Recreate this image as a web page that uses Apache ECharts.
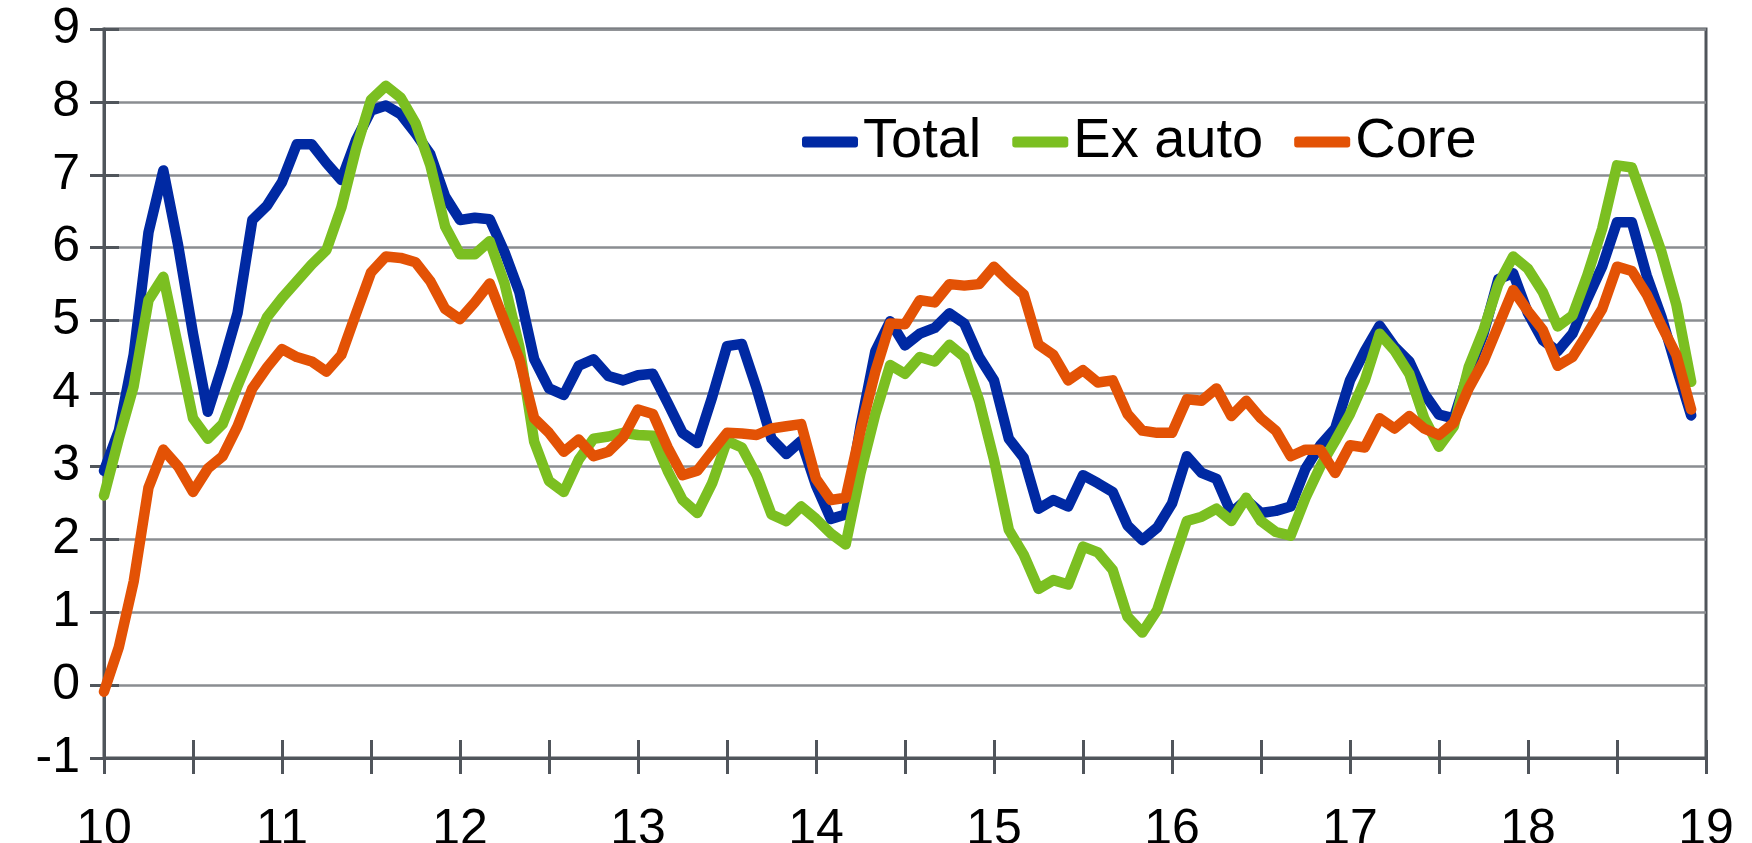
<!DOCTYPE html>
<html>
<head>
<meta charset="utf-8">
<title>Total / Ex auto / Core</title>
<script src="https://cdn.jsdelivr.net/npm/echarts@6/dist/echarts.min.js"></script>
<style>
  html, body { margin: 0; padding: 0; background: #fff; }
  #main { width: 1752px; height: 843px; }
</style>
</head>
<body>
<div id="main"></div>
<script>
// monthly values, Jan 2010 .. Dec 2018
var startYear = 10;
var total = [
  2.94, 3.49, 4.53, 6.21, 7.06, 6.03, 4.82, 3.75, 4.39, 5.10, 6.38, 6.58,
  6.90, 7.42, 7.42, 7.16, 6.93, 7.48, 7.88, 7.95, 7.83, 7.57, 7.28, 6.70,
  6.38, 6.41, 6.39, 5.94, 5.39, 4.47, 4.07, 3.98, 4.38, 4.47, 4.24, 4.18,
  4.25, 4.27, 3.87, 3.46, 3.32, 3.95, 4.65, 4.68, 4.07, 3.38, 3.17, 3.35,
  2.74, 2.28, 2.34, 3.55, 4.58, 4.99, 4.66, 4.82, 4.90, 5.10, 4.96, 4.50,
  4.18, 3.38, 3.12, 2.42, 2.54, 2.45, 2.88, 2.77, 2.65, 2.19, 1.99, 2.16,
  2.49, 3.14, 2.91, 2.83, 2.36, 2.54, 2.36, 2.39, 2.45, 2.97, 3.29, 3.52,
  4.18, 4.58, 4.93, 4.64, 4.44, 4.00, 3.71, 3.66, 4.30, 4.82, 5.57, 5.65,
  5.10, 4.73, 4.58, 4.82, 5.30, 5.74, 6.35, 6.35, 5.62, 5.05, 4.36, 3.70
];
var exAuto = [
  2.60, 3.38, 4.10, 5.28, 5.60, 4.64, 3.66, 3.38, 3.58, 4.10, 4.59, 5.05,
  5.31, 5.54, 5.77, 5.97, 6.55, 7.36, 8.03, 8.22, 8.06, 7.71, 7.13, 6.29,
  5.91, 5.91, 6.09, 5.51, 4.64, 3.34, 2.80, 2.65, 3.09, 3.38, 3.41, 3.46,
  3.43, 3.42, 2.94, 2.54, 2.36, 2.77, 3.35, 3.26, 2.88, 2.34, 2.25, 2.45,
  2.28, 2.08, 1.93, 2.91, 3.72, 4.39, 4.27, 4.50, 4.44, 4.67, 4.50, 3.90,
  3.09, 2.13, 1.79, 1.32, 1.44, 1.38, 1.90, 1.82, 1.58, 0.94, 0.72, 1.03,
  1.65, 2.25, 2.31, 2.42, 2.25, 2.57, 2.25, 2.10, 2.05, 2.57, 3.00, 3.35,
  3.72, 4.18, 4.82, 4.59, 4.27, 3.66, 3.27, 3.55, 4.36, 4.87, 5.50, 5.88,
  5.71, 5.39, 4.92, 5.07, 5.62, 6.26, 7.13, 7.10, 6.52, 5.94, 5.22, 4.16
];
var core = [
  -0.09, 0.52, 1.42, 2.71, 3.23, 3.00, 2.65, 2.97, 3.14, 3.55, 4.07, 4.36,
  4.61, 4.50, 4.44, 4.30, 4.53, 5.10, 5.66, 5.88, 5.86, 5.80, 5.54, 5.16,
  5.02, 5.25, 5.51, 4.99, 4.47, 3.66, 3.46, 3.20, 3.37, 3.14, 3.20, 3.40,
  3.78, 3.72, 3.26, 2.88, 2.94, 3.20, 3.46, 3.45, 3.43, 3.52, 3.55, 3.58,
  2.83, 2.54, 2.57, 3.49, 4.30, 4.96, 4.95, 5.28, 5.25, 5.50, 5.48, 5.50,
  5.74, 5.54, 5.36, 4.67, 4.53, 4.18, 4.32, 4.15, 4.18, 3.72, 3.49, 3.46,
  3.46, 3.92, 3.90, 4.07, 3.69, 3.90, 3.66, 3.49, 3.14, 3.23, 3.23, 2.91,
  3.29, 3.26, 3.66, 3.52, 3.69, 3.52, 3.43, 3.60, 4.07, 4.44, 4.93, 5.42,
  5.13, 4.87, 4.38, 4.50, 4.82, 5.16, 5.74, 5.68, 5.36, 4.93, 4.53, 3.78
];
var seriesNames = ['Total', 'Ex auto', 'Core'];
var seriesColors = ['#0029a3', '#7bbf21', '#e35205'];

function toPoints(arr) {
  return arr.map(function (v, i) { return [startYear + i / 12, v]; });
}

var font = 'Liberation Sans, Arial, sans-serif';
var axisColor = '#50555b';

var myChart = echarts.init(document.getElementById('main'));
myChart.setOption({
  animation: false,
  backgroundColor: '#fff',
  textStyle: { fontFamily: font },
  grid: {
    left: 104, top: 29, width: 1602, height: 729,
    show: true, borderColor: axisColor, borderWidth: 3,
    containLabel: false, outerBoundsMode: 'none'
  },
  legend: {
    left: 802, top: 114, padding: 0,
    itemWidth: 56, itemHeight: 11, itemGap: 31,
    icon: 'roundRect',
    textStyle: { fontSize: 56, color: '#000', fontFamily: font },
    data: seriesNames
  },
  xAxis: [{
    type: 'value', min: 10, max: 19, interval: 0.5,
    axisLine: { onZero: false, lineStyle: { color: axisColor, width: 3 } },
    axisTick: { length: 16, lineStyle: { color: axisColor, width: 3 } },
    splitLine: { show: false },
    axisLabel: {
      fontSize: 50, color: '#000', margin: 47, fontFamily: font,
      formatter: function (v) { return v % 1 === 0 ? String(v) : ''; }
    }
  }, {
    type: 'value', min: 10, max: 19, interval: 0.5, position: 'bottom',
    axisLine: { show: false, onZero: false },
    axisTick: { inside: true, length: 18, lineStyle: { color: axisColor, width: 3 } },
    axisLabel: { show: false },
    splitLine: { show: false }
  }],
  yAxis: [{
    type: 'value', min: -1, max: 9, interval: 1,
    axisLine: { show: true, onZero: false, lineStyle: { color: axisColor, width: 3 } },
    axisTick: { show: true, length: 14, lineStyle: { color: axisColor, width: 3 } },
    splitLine: { lineStyle: { color: '#8a8d91', width: 2.5 } },
    axisLabel: { fontSize: 50, color: '#000', margin: 24, fontFamily: font }
  }, {
    type: 'value', min: -1, max: 9, interval: 1, position: 'left',
    axisLine: { show: false, onZero: false },
    axisTick: { show: true, inside: true, length: 15, lineStyle: { color: axisColor, width: 3 } },
    axisLabel: { show: false },
    splitLine: { show: false }
  }],
  series: [total, exAuto, core].map(function (arr, k) {
    return {
      name: seriesNames[k],
      type: 'line',
      xAxisIndex: 0,
      yAxisIndex: 0,
      data: toPoints(arr),
      showSymbol: false,
      symbol: 'none',
      color: seriesColors[k],
      lineStyle: { color: seriesColors[k], width: 10.5, join: 'round', cap: 'round' }
    };
  })
});
</script>
</body>
</html>
